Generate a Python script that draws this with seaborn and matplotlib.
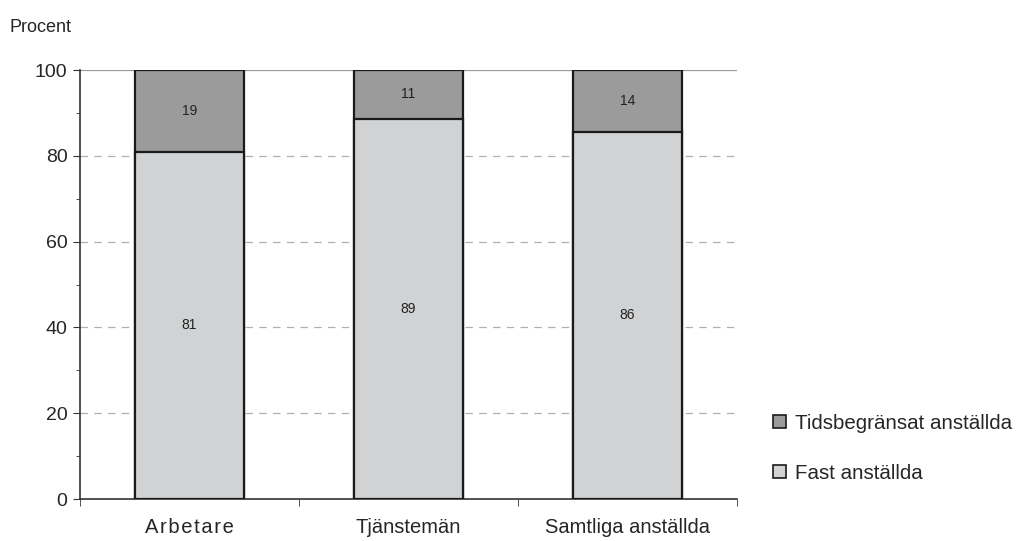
import pandas as pd
import seaborn as sns
import matplotlib.pyplot as plt
from matplotlib.patches import Patch
from matplotlib.ticker import MultipleLocator, FixedLocator

# Data (percent)
groups = ['Arbetare', 'Tjänstemän', 'Samtliga anställda']
fast = [80.9, 88.6, 85.6]
tids = [19.1, 11.4, 14.4]
series_names = ['Tidsbegränsat anställda', 'Fast anställda']

light = '#d1d2d4'
dark = '#9b9b9b'
edge = '#1a1a1a'

df = pd.DataFrame({'grupp': groups, 'fast': fast, 'tids': tids})
df['total'] = df['fast'] + df['tids']

sns.set_style('white')
plt.rcParams['font.family'] = ['Liberation Sans', 'DejaVu Sans']

fig = plt.figure(figsize=(10.19, 5.41), dpi=100)
ax = fig.add_axes([0.0785, 0.0776, 0.6445, 0.793])

# Gridlines behind bars
for y in [20, 40, 60, 80]:
    ax.axhline(y, color='#b0b0b0', lw=0.9, ls=(0, (6, 5)), zorder=0)
ax.axhline(100, color='#9a9a9a', lw=1.6, zorder=0)

# Stack: total (dark) first, then fast (light) on top
sns.barplot(data=df, x='grupp', y='total', color=dark, width=0.5,
            edgecolor=edge, linewidth=1.6, saturation=1, ax=ax, zorder=2)
sns.barplot(data=df, x='grupp', y='fast', color=light, width=0.5,
            edgecolor=edge, linewidth=1.6, saturation=1, ax=ax, zorder=3)

# Value labels
for i in range(len(groups)):
    ax.text(i, fast[i] / 2, f'{round(fast[i])}', ha='center', va='center',
            fontsize=10, color='#222222', zorder=4)
    ax.text(i, fast[i] + tids[i] / 2, f'{round(tids[i])}', ha='center',
            va='center', fontsize=10, color='#222222', zorder=4)

ax.set_ylim(0, 100)
ax.set_xlim(-0.5, 2.5)
ax.set_xlabel('')
ax.set_ylabel('')
ax.yaxis.set_major_locator(MultipleLocator(20))
ax.yaxis.set_minor_locator(MultipleLocator(10))
ax.tick_params(axis='y', which='major', labelsize=14, length=5,
               direction='out', left=True, color='#333333', pad=4)
ax.tick_params(axis='y', which='minor', length=3, direction='out',
               left=True, color='#333333')

# "Arbetare" is letter-spaced in the original
xlabels = ['\u200a'.join(groups[0])] + groups[1:]
ax.set_xticks(range(len(groups)))
ax.set_xticklabels(xlabels, fontsize=14.5)
ax.tick_params(axis='x', which='major', length=0, pad=14)
ax.xaxis.set_minor_locator(FixedLocator([-0.5, 0.5, 1.5, 2.5]))
ax.tick_params(axis='x', which='minor', length=5, direction='out',
               bottom=True, color='#333333')

sns.despine(ax=ax, top=True, right=True)
for s in ['left', 'bottom']:
    ax.spines[s].set_color('#333333')
    ax.spines[s].set_linewidth(1.2)

fig.text(0.0098, 0.965, 'Procent', fontsize=13, va='top', ha='left')

handles = [Patch(facecolor=dark, edgecolor=edge, lw=1.2),
           Patch(facecolor=light, edgecolor=edge, lw=1.2)]
ax.legend(handles, series_names, loc='center left',
          bbox_to_anchor=(1.04, 0.118), frameon=False, fontsize=14.8,
          handlelength=0.6, handleheight=0.6, handletextpad=0.45,
          labelspacing=1.5, borderpad=0)

fig.savefig('out.png', dpi=100)
